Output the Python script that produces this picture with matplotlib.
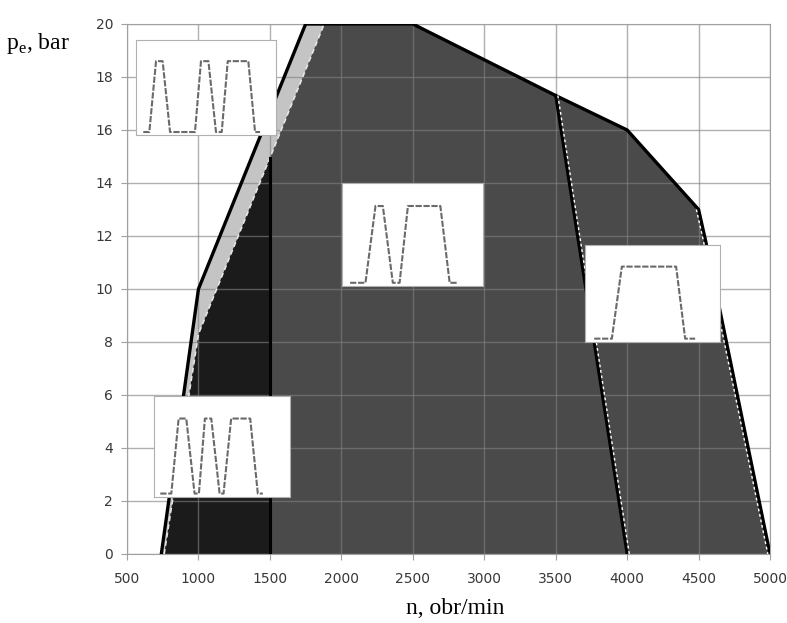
import numpy as np
import matplotlib
matplotlib.use("Agg")
import matplotlib.pyplot as plt
from matplotlib.transforms import offset_copy

# outer limit of the map (black line)
outer_n = [740, 1000, 1750, 2500, 3500, 4000, 4500, 4550, 5000]
outer_p = [0, 10, 20, 20, 17.3, 16, 13, 11.8, 0]

# inner boundary (white dashed line)
inner_n = [760, 1000, 1880]
inner_p = [0, 8.3, 20]

# dividing lines
split1_n = 1500
split2_n = [3500, 4000]
split2_p = [17.3, 0]

x_ticks = [500, 1000, 1500, 2000, 2500, 3000, 3500, 4000, 4500, 5000]
y_ticks = [0, 2, 4, 6, 8, 10, 12, 14, 16, 18, 20]

# injection traces in the small boxes (time in % of box, level 0/1)
trace1_t = [5.2, 9.5, 14.3, 19.0, 24.3, 42.1, 46.4, 51.7, 57.1, 61.2, 65.5, 80.2, 85.0, 88.6]
trace1_v = [0, 0, 1, 1, 0, 0, 1, 1, 0, 0, 1, 1, 0, 0]
trace2_t = [5.7, 16.6, 23.7, 28.9, 36.0, 40.8, 46.7, 69.7, 76.3, 82.2]
trace2_v = [0, 0, 1, 1, 0, 0, 1, 1, 0, 0]
trace3_t = [6.7, 19.8, 27.2, 67.4, 74.1, 81.5]
trace3_v = [0, 0, 1, 1, 0, 0]
trace4_t = [4.6, 12.7, 18.1, 23.7, 29.8, 33.0, 37.4, 42.1, 48.2, 51.1, 56.7, 70.7, 76.3, 80.0]
trace4_v = [0, 0, 1, 1, 0, 0, 1, 1, 0, 0, 1, 1, 0, 0]

fig = plt.figure(figsize=(7.87, 6.23), dpi=100)
ax = fig.add_axes([0.1614, 0.1108, 0.8170, 0.8507])

p_split = np.interp(split1_n, inner_n, inner_p)

# light gray band between outer and inner line (left side)
band_n = np.concatenate([outer_n[:3], inner_n[::-1]])
band_p = np.concatenate([outer_p[:3], inner_p[::-1]])
ax.fill(band_n, band_p, color="#c4c4c4", lw=0, zorder=1)

# very dark region below 1500 rpm
dark1_n = [inner_n[0], inner_n[1], split1_n, split1_n]
dark1_p = [inner_p[0], inner_p[1], p_split, 0]
ax.fill(dark1_n, dark1_p, color="#1b1b1b", lw=0, zorder=1)

# dark gray region above 1500 rpm
dark2_n = np.concatenate([[split1_n, split1_n, inner_n[2]], outer_n[3:]])
dark2_p = np.concatenate([[0, p_split, inner_p[2]], outer_p[3:]])
ax.fill(dark2_n, dark2_p, color="#4a4a4a", lw=0, zorder=1)

# lines
ax.plot(inner_n, inner_p, color="#e6e6e6", lw=1.2, ls=(0, (3, 2)), zorder=3)
ax.plot(outer_n, outer_p, color="black", lw=2.4, zorder=4)
ax.plot([split1_n, split1_n], [0, p_split], color="black", lw=2.2, zorder=4)
ax.plot(split2_n, split2_p, color="black", lw=2.2, zorder=4)
right_shift = offset_copy(ax.transData, fig=fig, x=2.2, y=0, units="dots")
left_shift = offset_copy(ax.transData, fig=fig, x=-2.2, y=0, units="dots")
ax.plot(split2_n, split2_p, color="white", lw=1, ls=(0, (2, 2)), zorder=4, transform=right_shift)
ax.plot(outer_n[6:], outer_p[6:], color="white", lw=1, ls=(0, (2, 2)), zorder=4, transform=left_shift)

ax.set_xlim(500, 5000)
ax.set_ylim(0, 20)
ax.set_xticks(x_ticks)
ax.set_yticks(y_ticks)
ax.grid(True, color="#808080", alpha=0.62, lw=1)
for s in ax.spines.values():
    s.set_color("#a0a0a0")
ax.tick_params(colors="#a0a0a0", length=4, labelcolor="#383838", labelsize=10)
ax.tick_params(axis="x", pad=9)
ax.tick_params(axis="y", pad=6)

serif = ["Liberation Serif", "DejaVu Serif"]
fig.text(0.008, 0.93, "p$_\\mathregular{e}$, bar", family=serif, fontsize=17, ha="left", va="center")
fig.text(0.578, 0.024, "n, obr/min", family=serif, fontsize=17, ha="center", va="center")


def add_box(bounds, t, v):
    ins = ax.inset_axes(bounds, transform=ax.transData, zorder=6)
    ins.set_facecolor("white")
    ins.plot(t, v, color="#6a6a6a", lw=1.5, ls=(0, (3, 0.8)))
    ins.set_xlim(0, 100)
    ins.set_ylim(-0.046, 1.30)
    ins.set_xticks([])
    ins.set_yticks([])
    for s in ins.spines.values():
        s.set_color("#b0b0b0")
        s.set_linewidth(0.8)


add_box([563, 15.8, 980, 3.6], trace1_t, trace1_v)
add_box([2005, 10.1, 987, 3.9], trace2_t, trace2_v)
add_box([3706, 8.0, 945, 3.66], trace3_t, trace3_v)
add_box([689, 2.15, 952, 3.81], trace4_t, trace4_v)

fig.savefig("out.png", dpi=100)
